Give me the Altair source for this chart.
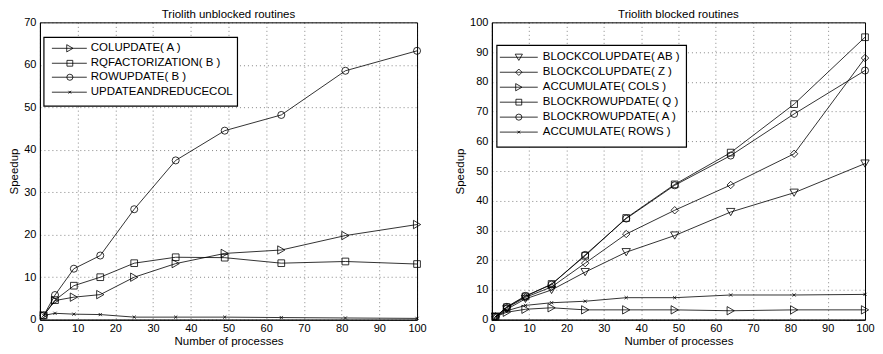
import altair as alt
import pandas as pd

FONT = "Liberation Sans"

x_vals = [1, 4, 9, 16, 25, 36, 49, 64, 81, 100]
x_ticks = [0, 10, 20, 30, 40, 50, 60, 70, 80, 90, 100]

# ---- left panel: unblocked routines
left_title = "Triolith unblocked routines"
left_names = ["COLUPDATE( A )", "RQFACTORIZATION( B )", "ROWUPDATE( B )", "UPDATEANDREDUCECOL"]
colupdate_a = [1.0, 4.5, 5.3, 5.9, 10.0, 13.2, 15.6, 16.4, 19.8, 22.4]
rqfactorization_b = [1.0, 4.6, 8.0, 10.0, 13.3, 14.7, 14.6, 13.3, 13.7, 13.1]
rowupdate_b = [1.0, 5.8, 12.0, 15.1, 26.0, 37.5, 44.5, 48.2, 58.6, 63.3]
updateandreducecol = [1.0, 1.5, 1.3, 1.2, 0.6, 0.6, 0.6, 0.5, 0.4, 0.3]
left_values = [colupdate_a, rqfactorization_b, rowupdate_b, updateandreducecol]
left_yticks = [0, 10, 20, 30, 40, 50, 60, 70]

# ---- right panel: blocked routines
right_title = "Triolith blocked routines"
right_names = ["BLOCKCOLUPDATE( AB )", "BLOCKCOLUPDATE( Z )", "ACCUMULATE( COLS )",
               "BLOCKROWUPDATE( Q )", "BLOCKROWUPDATE( A )", "ACCUMULATE( ROWS )"]
blockcolupdate_ab = [1.0, 3.5, 7.0, 10.0, 16.0, 22.7, 28.3, 36.2, 42.7, 52.5]
blockcolupdate_z = [1.0, 4.0, 7.5, 11.0, 19.0, 28.8, 36.8, 45.3, 55.8, 88.0]
accumulate_cols = [1.0, 2.5, 3.5, 4.0, 3.3, 3.3, 3.3, 3.0, 3.3, 3.3]
blockrowupdate_q = [1.0, 4.2, 7.8, 12.0, 21.5, 34.2, 45.5, 56.2, 72.5, 95.0]
blockrowupdate_a = [1.0, 4.3, 8.0, 11.8, 21.8, 34.0, 45.2, 55.2, 69.2, 83.8]
accumulate_rows = [1.0, 3.0, 4.8, 5.7, 6.2, 7.4, 7.4, 8.3, 8.3, 8.5]
right_values = [blockcolupdate_ab, blockcolupdate_z, accumulate_cols,
                blockrowupdate_q, blockrowupdate_a, accumulate_rows]
right_yticks = [0, 10, 20, 30, 40, 50, 60, 70, 80, 90, 100]

XMARK = "M-1,-1L1,1M-1,1L1,-1"
left_shapes = [("triangle-right", 70), ("square", 45), ("circle", 50), (XMARK, 10)]
right_shapes = [("triangle-down", 70), ("diamond", 55), ("triangle-right", 70),
                ("square", 45), ("circle", 50), (XMARK, 10)]

LW = 0.8


def panel(title, names, values, shapes, yticks, width, height, box, rows, line_x, mark_x, text_x):
    x_enc = alt.X("x:Q", scale=alt.Scale(domain=[0, 100], nice=False, zero=True),
                  axis=alt.Axis(values=x_ticks, title="Number of processes", labelFlush=False))
    y_enc = alt.Y("y:Q", scale=alt.Scale(domain=[0, yticks[-1]], nice=False, zero=True),
                  axis=alt.Axis(values=yticks, title="Speedup"))
    layers = []
    for i, (name, vals) in enumerate(zip(names, values)):
        df = pd.DataFrame({"x": x_vals, "y": vals, "s": name})
        shape, size = shapes[i]
        layers.append(alt.Chart(df).mark_line(color="black", strokeWidth=LW)
                      .encode(x=x_enc, y=y_enc))
        layers.append(alt.Chart(df).mark_point(shape=shape, size=size, color="black",
                                               strokeWidth=LW, filled=False, opacity=1)
                      .encode(x=x_enc, y=y_enc))
    # legend box
    one = pd.DataFrame({"a": [0]})
    layers.append(alt.Chart(one).mark_rect(fill="white", stroke="black", strokeWidth=1.2)
                  .encode(x=alt.value(box[0]), x2=alt.value(box[1]),
                          y=alt.value(box[2]), y2=alt.value(box[3])))
    for i, name in enumerate(names):
        yy = rows[i]
        shape, size = shapes[i]
        layers.append(alt.Chart(one).mark_rule(color="black", strokeWidth=LW)
                      .encode(x=alt.value(line_x[0]), x2=alt.value(line_x[1]), y=alt.value(yy)))
        layers.append(alt.Chart(one).mark_point(shape=shape, size=size * 0.75, color="black",
                                                strokeWidth=LW, filled=False, opacity=1)
                      .encode(x=alt.value(mark_x), y=alt.value(yy)))
        layers.append(alt.Chart(one).mark_text(align="left", baseline="middle", fontSize=11.5,
                                               font=FONT, color="black")
                      .encode(x=alt.value(text_x), y=alt.value(yy), text=alt.value(name)))
    return alt.layer(*layers).properties(
        width=width, height=height,
        title=alt.TitleParams(title, fontSize=11.5, fontWeight="normal", font=FONT,
                              color="black", offset=-4, frame="group"))


left = panel(left_title, left_names, left_values, left_shapes, left_yticks, 378, 298,
             box=(4, 198, 15, 84), rows=[26, 41, 55, 70], line_x=(12, 47), mark_x=30, text_x=51)
right = panel(right_title, right_names, right_values, right_shapes, right_yticks, 374, 298,
              box=(5, 195, 23, 125), rows=[35, 50, 65, 80, 95, 110], line_x=(8, 46), mark_x=27, text_x=51)

chart = alt.hconcat(left, right, spacing=27).properties(padding=0).configure_view(
    stroke="black", strokeWidth=1
).configure_axis(
    labelFont=FONT, titleFont=FONT, labelFontSize=11, titleFontSize=11.5,
    titleFontWeight="normal", labelColor="black", titleColor="black",
    domainColor="black", domainWidth=1, ticks=False, labelPadding=4,
    grid=True, gridColor="black", gridDash=[1, 3], gridOpacity=0.6, gridWidth=0.8,
    titlePadding=4
).configure_axisX(titlePadding=2, labelPadding=3)

chart.save("out.html", embed_options={"renderer": "svg", "actions": False})
